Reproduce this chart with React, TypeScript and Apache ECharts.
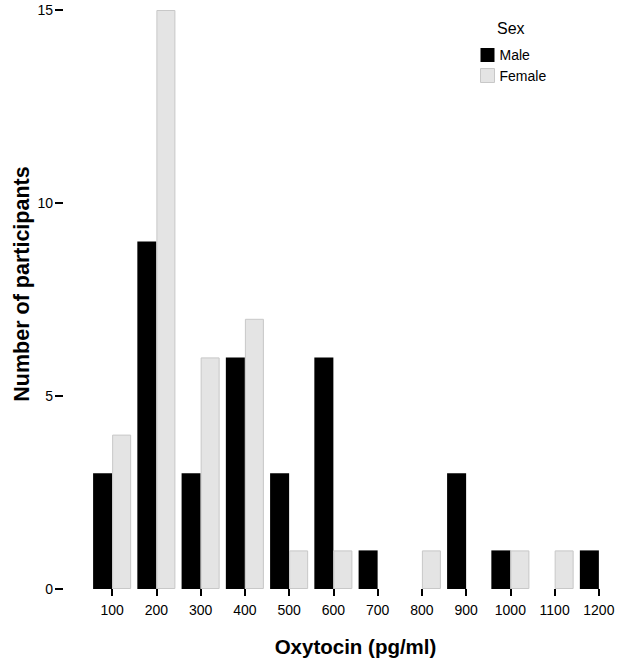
import React, { useEffect, useRef } from "react";
import * as echarts from "echarts";

const categories = ["100", "200", "300", "400", "500", "600", "700", "800", "900", "1000", "1100", "1200"];
const maleValues = [3, 9, 3, 6, 3, 6, 1, 0, 3, 1, 0, 1];
const femaleValues = [4, 15, 6, 7, 1, 1, 0, 1, 0, 1, 1, 0];
const yTicks = [0, 5, 10, 15];

const FONT = "Liberation Sans, Arial, sans-serif";
const hideZero = (arr: number[]) => arr.map((v) => (v === 0 ? "-" : v));

export default function App() {
  const ref = useRef<HTMLDivElement>(null);
  useEffect(() => {
    if (!ref.current) return;
    const chart = echarts.init(ref.current, undefined, { renderer: "svg" });
    chart.setOption({
      animation: false,
      textStyle: { fontFamily: FONT },
      grid: { left: 90, right: 11, top: 10, bottom: 75 },
      legend: {
        orient: "vertical",
        left: 480,
        top: 48,
        padding: 0,
        icon: "rect",
        itemWidth: 14,
        itemHeight: 14,
        itemGap: 6,
        selectedMode: false,
        textStyle: { fontSize: 14, color: "#000", fontFamily: FONT },
        data: [
          { name: "Male", itemStyle: { color: "#000" } },
          { name: "Female", itemStyle: { color: "#e4e4e4", borderColor: "#c8c8c8", borderWidth: 1 } },
        ],
      },
      graphic: [
        {
          type: "text",
          left: 497,
          top: 20,
          style: { text: "Sex", fontSize: 16, fill: "#000", fontFamily: FONT },
        },
        {
          type: "text",
          x: 22,
          y: 284,
          rotation: Math.PI / 2,
          style: {
            text: "Number of participants",
            fontSize: 21.5,
            fontWeight: "bold",
            fill: "#000",
            fontFamily: FONT,
            align: "center",
            verticalAlign: "middle",
          },
        },
      ],
      xAxis: {
        type: "category",
        data: categories,
        offset: 2,
        axisLine: { show: false },
        axisTick: { show: true, alignWithLabel: true, length: 7, lineStyle: { color: "#000", width: 2 } },
        axisLabel: { fontSize: 14, color: "#000", margin: 12, fontFamily: FONT },
        name: "Oxytocin (pg/ml)",
        nameLocation: "middle",
        nameGap: 45,
        nameTextStyle: { fontSize: 20.5, fontWeight: "bold", color: "#000", fontFamily: FONT },
      },
      yAxis: {
        type: "value",
        min: 0,
        max: 15,
        interval: 5,
        offset: 27,
        splitLine: { show: false },
        axisLine: { show: false },
        axisTick: { show: true, length: 8, lineStyle: { color: "#000", width: 2 } },
        axisLabel: { fontSize: 14, color: "#000", margin: 10, fontFamily: FONT,
          formatter: (v: number) => (yTicks.includes(v) ? String(v) : "") },
      },
      series: [
        {
          name: "Male",
          type: "bar",
          data: hideZero(maleValues),
          barGap: "0%",
          barCategoryGap: "14%",
          itemStyle: { color: "#000" },
        },
        {
          name: "Female",
          type: "bar",
          data: hideZero(femaleValues),
          barGap: "0%",
          barCategoryGap: "14%",
          itemStyle: { color: "#e4e4e4", borderColor: "#c8c8c8", borderWidth: 1 },
        },
      ],
    });
    return () => chart.dispose();
  }, []);
  return <div ref={ref} style={{ width: 632, height: 664, position: "absolute", left: 0, top: 0 }} />;
}
